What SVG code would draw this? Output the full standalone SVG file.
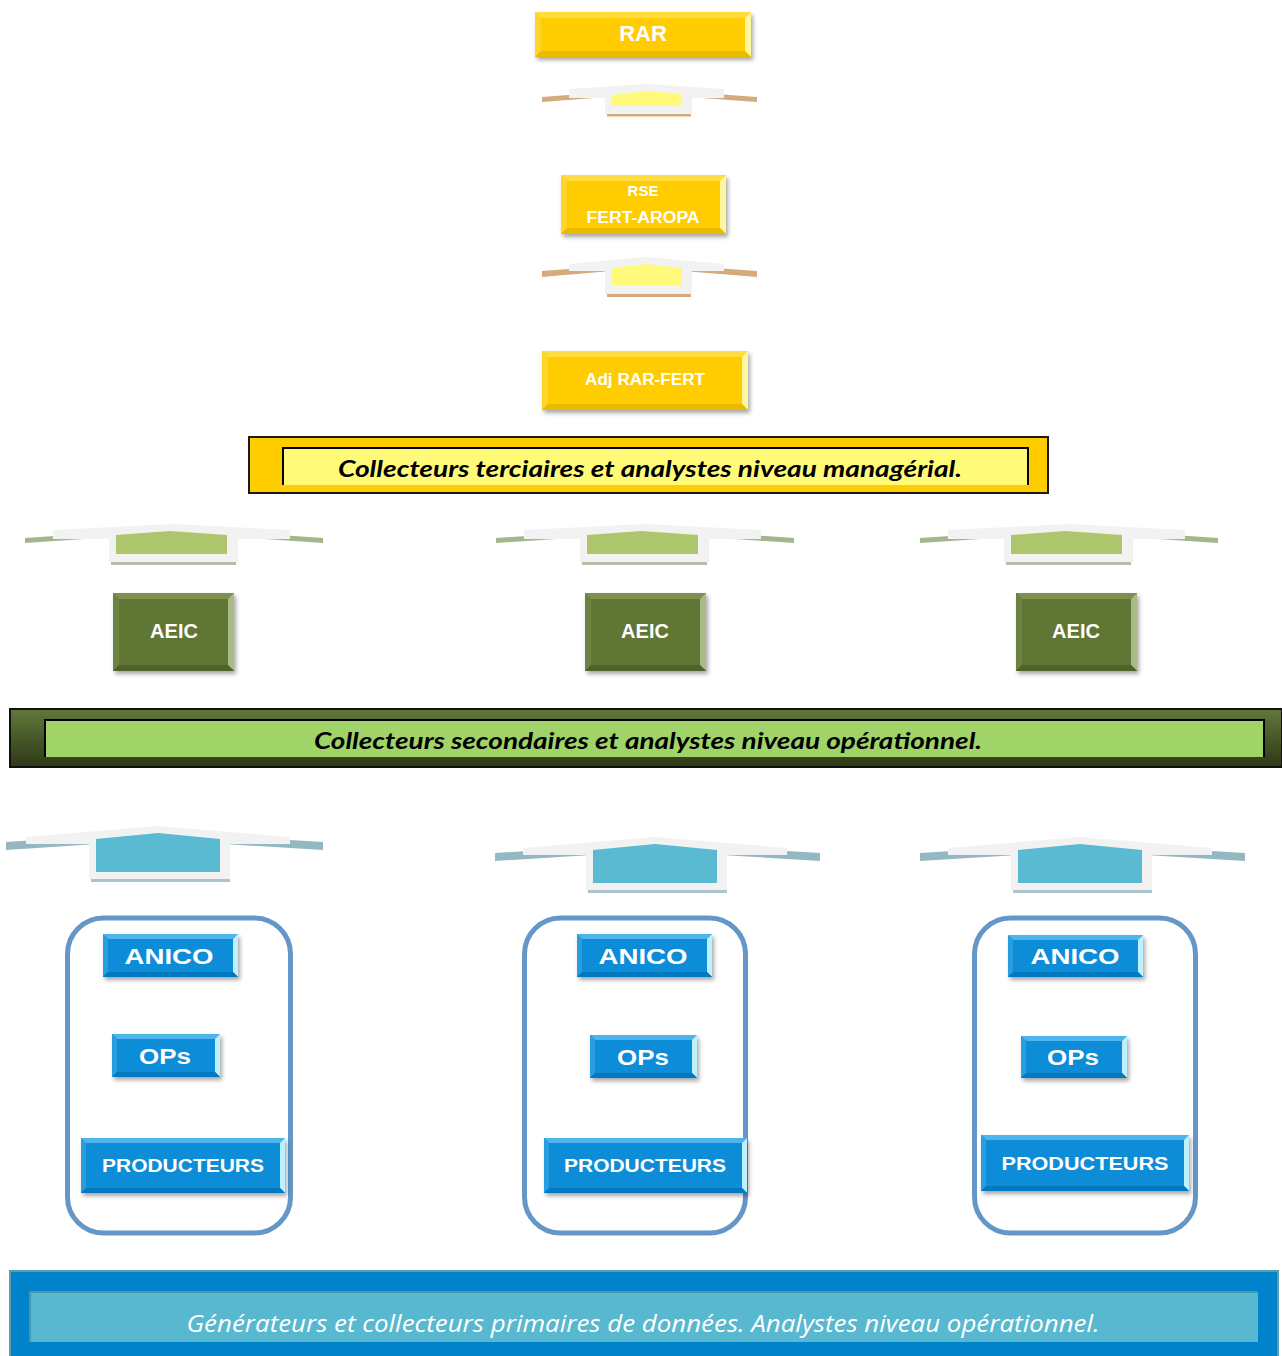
<svg xmlns="http://www.w3.org/2000/svg" xmlns:xlink="http://www.w3.org/1999/xlink" width="1282" height="1356" viewBox="0 0 1282 1356">
<style>
.lbl{font-family:"Liberation Sans",Arial,sans-serif;font-weight:bold;fill:#ffffff;text-anchor:middle}
.ban{font-family:Lato,"Liberation Sans",sans-serif;font-weight:bold;font-style:italic;fill:#000000;text-anchor:middle}
.ban2{font-family:"Open Sans","Liberation Sans",sans-serif;font-style:italic;fill:#ffffff;text-anchor:middle}
.y{fill:#FFCC00}
.yt{fill:#FFDC40}.yl{fill:#FFD52A}.yr{fill:#FFF6A0}.yb{fill:#E9BA00}
.g{fill:#5F7636}
.gt{fill:#7D9250}.gl{fill:#6C8343}.gr{fill:#A9BB86}.gb{fill:#4E6229}
.b{fill:#0E8CD8}
.bt{fill:#4DB4EC}.bl{fill:#2A9DE0}.br{fill:#BDF1FF}.bb{fill:#0079C1}
.cont{fill:#ffffff;stroke:#6497C8;stroke-width:5}
.white{fill:#F2F2F2}
</style>
<defs>
<filter id="sh" x="-20%" y="-20%" width="140%" height="150%">
<feDropShadow dx="2" dy="3" stdDeviation="2" flood-color="#000" flood-opacity="0.35"/>
</filter>
<linearGradient id="gban" x1="0" y1="0" x2="0" y2="1">
<stop offset="0" stop-color="#617839"/>
<stop offset="1" stop-color="#2E3917"/>
</linearGradient>
<g id="brG">
<polygon points="25,538 174,528 323,538 323,543 174,533 25,543" fill="#A3B58A"/>
<polygon class="white" points="53,530 174,524 290,530 290,539 238,539 238,562 109,562 109,539 53,539"/>
<rect x="111" y="562" width="125" height="3" fill="#B5BFA5"/>
<polygon points="116,535 170,531 227,535 227,554 116,554" fill="#ADC56B"/>
</g>
<g id="brBbody">
<polygon class="white" points="523,848 655,837 787,848 787,855 727,855 727,890 586,890 586,855 523,855"/>
<rect x="588" y="890" width="139" height="3" fill="#A9C4CB"/>
<polygon points="593,850 655,844 717,850 717,883 593,883" fill="#59BAD1"/>
</g>
</defs>

<g id="connectors">
<g id="bracket-y1">
<polygon points="542,97 646,89 757,97 757,102 646,94 542,102" fill="#D5AA7C"/>
<polygon class="white" points="569,89 646,84 724,89 724,98 692,98 692,114 605,114 605,98 569,98"/>
<rect x="607" y="114" width="84" height="2.5" fill="#D5AA7C"/>
<polygon points="612,95 646,91 682,94 682,106 612,106" fill="#FFFA7A"/>
</g>
<g id="bracket-y2">
<polygon points="542,271 646,263 757,271 757,277 646,268 542,277" fill="#D5AA7C"/>
<polygon class="white" points="569,264 646,257 724,264 724,271 692,271 692,294 605,294 605,271 569,271"/>
<rect x="607" y="294" width="84" height="3" fill="#D5AA7C"/>
<polygon points="612,268 646,264 682,268 682,285 612,285" fill="#FFFA7A"/>
</g>
<use id="bracket-g1" href="#brG" xlink:href="#brG"/>
<use id="bracket-g2" href="#brG" xlink:href="#brG" transform="translate(471,0)"/>
<use id="bracket-g3" href="#brG" xlink:href="#brG" transform="translate(895,0)"/>
<g id="bracket-b1">
<polygon points="6,842 158,832 323,842 323,850 158,840 6,850" fill="#94B8C1"/>
<use href="#brBbody" xlink:href="#brBbody" transform="translate(-497,-11)"/>
</g>
<g id="bracket-b2">
<polygon points="495,853 655,843 820,853 820,861 655,851 495,861" fill="#94B8C1"/>
<use href="#brBbody" xlink:href="#brBbody"/>
</g>
<g id="bracket-b3">
<polygon points="920,853 1080,843 1245,853 1245,861 1080,851 920,861" fill="#94B8C1"/>
<use href="#brBbody" xlink:href="#brBbody" transform="translate(425,0)"/>
</g>
</g>

<g id="node-rar">
<rect class="y" x="535" y="12" width="216" height="45" filter="url(#sh)"/>
<polygon class="yt" points="535,12 751,12 745,18 541,18"/>
<polygon class="yl" points="535,12 541,18 541,51 535,57"/>
<polygon class="yr" points="751,12 751,57 745,51 745,18"/>
<polygon class="yb" points="535,57 541,51 745,51 751,57"/>
<text class="lbl" x="643" y="41" font-size="22">RAR</text>
</g>

<g id="node-rse">
<rect class="y" x="561" y="175" width="165" height="59" filter="url(#sh)"/>
<polygon class="yt" points="561,175 726,175 720,181 567,181"/>
<polygon class="yl" points="561,175 567,181 567,228 561,234"/>
<polygon class="yr" points="726,175 726,234 720,228 720,181"/>
<polygon class="yb" points="561,234 567,228 720,228 726,234"/>
<text class="lbl" x="643" y="196" font-size="15">RSE</text>
<text class="lbl" x="643" y="223" font-size="16" textLength="113" lengthAdjust="spacingAndGlyphs">FERT-AROPA</text>
</g>

<g id="node-adj">
<rect class="y" x="542" y="351" width="206" height="59" filter="url(#sh)"/>
<polygon class="yt" points="542,351 748,351 742,357 548,357"/>
<polygon class="yl" points="542,351 548,357 548,404 542,410"/>
<polygon class="yr" points="748,351 748,410 742,404 742,357"/>
<polygon class="yb" points="542,410 548,404 742,404 748,410"/>
<text class="lbl" x="645" y="385" font-size="16" textLength="120" lengthAdjust="spacingAndGlyphs">Adj RAR-FERT</text>
</g>

<g id="banner-terciaires">
<rect x="249" y="437" width="799" height="56" fill="#FFCC00" stroke="#1a1a1a" stroke-width="2"/>
<rect x="283" y="448" width="745" height="37" fill="#FFFA78"/>
<path d="M283,485 V448 H1028 V485" fill="none" stroke="#000" stroke-width="2"/>
<text class="ban" x="650" y="477" font-size="22" textLength="624" lengthAdjust="spacingAndGlyphs">Collecteurs terciaires et analystes niveau managérial.</text>
</g>

<g id="node-aeic1">
<rect class="g" x="113" y="593" width="121" height="78" filter="url(#sh)"/>
<polygon class="gt" points="113,593 234,593 228,599 119,599"/>
<polygon class="gl" points="113,593 119,599 119,665 113,671"/>
<polygon class="gr" points="234,593 234,671 228,665 228,599"/>
<polygon class="gb" points="113,671 119,665 228,665 234,671"/>
<text class="lbl" x="174" y="638" font-size="20">AEIC</text>
</g>
<g id="node-aeic2">
<rect class="g" x="585" y="593" width="121" height="78" filter="url(#sh)"/>
<polygon class="gt" points="585,593 706,593 700,599 591,599"/>
<polygon class="gl" points="585,593 591,599 591,665 585,671"/>
<polygon class="gr" points="706,593 706,671 700,665 700,599"/>
<polygon class="gb" points="585,671 591,665 700,665 706,671"/>
<text class="lbl" x="645" y="638" font-size="20">AEIC</text>
</g>
<g id="node-aeic3">
<rect class="g" x="1016" y="593" width="121" height="78" filter="url(#sh)"/>
<polygon class="gt" points="1016,593 1137,593 1131,599 1022,599"/>
<polygon class="gl" points="1016,593 1022,599 1022,665 1016,671"/>
<polygon class="gr" points="1137,593 1137,671 1131,665 1131,599"/>
<polygon class="gb" points="1016,671 1022,665 1131,665 1137,671"/>
<text class="lbl" x="1076" y="638" font-size="20">AEIC</text>
</g>

<g id="banner-secondaires">
<rect x="10" y="709" width="1272" height="58" fill="url(#gban)" stroke="#111" stroke-width="2"/>
<rect x="45" y="720" width="1219" height="37" fill="#A0D468"/>
<path d="M45,757 V720 H1264 V757" fill="none" stroke="#000" stroke-width="2"/>
<text class="ban" x="648" y="749" font-size="22" textLength="668" lengthAdjust="spacingAndGlyphs">Collecteurs secondaires et analystes niveau opérationnel.</text>
</g>

<g id="group1">
<rect class="cont" x="67.5" y="918" width="223" height="315" rx="36"/>
<g id="node-anico1">
<rect class="b" x="103" y="934" width="135" height="43" filter="url(#sh)"/>
<polygon class="bt" points="103,934 238,934 233,939 108,939"/>
<polygon class="bl" points="103,934 108,939 108,972 103,977"/>
<polygon class="br" points="238,934 238,977 233,972 233,939"/>
<polygon class="bb" points="103,977 108,972 233,972 238,977"/>
<text class="lbl" x="169" y="964" font-size="22" textLength="89" lengthAdjust="spacingAndGlyphs">ANICO</text>
</g>
<g id="node-ops1">
<rect class="b" x="112" y="1034" width="108" height="43" filter="url(#sh)"/>
<polygon class="bt" points="112,1034 220,1034 215,1039 117,1039"/>
<polygon class="bl" points="112,1034 117,1039 117,1072 112,1077"/>
<polygon class="br" points="220,1034 220,1077 215,1072 215,1039"/>
<polygon class="bb" points="112,1077 117,1072 215,1072 220,1077"/>
<text class="lbl" x="165" y="1064" font-size="22" textLength="52" lengthAdjust="spacingAndGlyphs">OPs</text>
</g>
<g id="node-prod1">
<rect class="b" x="81" y="1138" width="204" height="55" filter="url(#sh)"/>
<polygon class="bt" points="81,1138 285,1138 280,1143 86,1143"/>
<polygon class="bl" points="81,1138 86,1143 86,1188 81,1193"/>
<polygon class="br" points="285,1138 285,1193 280,1188 280,1143"/>
<polygon class="bb" points="81,1193 86,1188 280,1188 285,1193"/>
<text class="lbl" x="183" y="1172" font-size="18" textLength="162" lengthAdjust="spacingAndGlyphs">PRODUCTEURS</text>
</g>
</g>

<g id="group2">
<rect class="cont" x="524.5" y="918" width="221" height="315" rx="36"/>
<g id="node-anico2">
<rect class="b" x="577" y="934" width="135" height="43" filter="url(#sh)"/>
<polygon class="bt" points="577,934 712,934 707,939 582,939"/>
<polygon class="bl" points="577,934 582,939 582,972 577,977"/>
<polygon class="br" points="712,934 712,977 707,972 707,939"/>
<polygon class="bb" points="577,977 582,972 707,972 712,977"/>
<text class="lbl" x="643" y="964" font-size="22" textLength="89" lengthAdjust="spacingAndGlyphs">ANICO</text>
</g>
<g id="node-ops2">
<rect class="b" x="590" y="1035" width="107" height="43" filter="url(#sh)"/>
<polygon class="bt" points="590,1035 697,1035 692,1040 595,1040"/>
<polygon class="bl" points="590,1035 595,1040 595,1073 590,1078"/>
<polygon class="br" points="697,1035 697,1078 692,1073 692,1040"/>
<polygon class="bb" points="590,1078 595,1073 692,1073 697,1078"/>
<text class="lbl" x="643" y="1065" font-size="22" textLength="52" lengthAdjust="spacingAndGlyphs">OPs</text>
</g>
<g id="node-prod2">
<rect class="b" x="544" y="1138" width="203" height="55" filter="url(#sh)"/>
<polygon class="bt" points="544,1138 747,1138 742,1143 549,1143"/>
<polygon class="bl" points="544,1138 549,1143 549,1188 544,1193"/>
<polygon class="br" points="747,1138 747,1193 742,1188 742,1143"/>
<polygon class="bb" points="544,1193 549,1188 742,1188 747,1193"/>
<text class="lbl" x="645" y="1172" font-size="18" textLength="162" lengthAdjust="spacingAndGlyphs">PRODUCTEURS</text>
</g>
</g>

<g id="group3">
<rect class="cont" x="974.5" y="918" width="221" height="315" rx="36"/>
<g id="node-anico3">
<rect class="b" x="1008" y="935" width="135" height="42" filter="url(#sh)"/>
<polygon class="bt" points="1008,935 1143,935 1138,940 1013,940"/>
<polygon class="bl" points="1008,935 1013,940 1013,972 1008,977"/>
<polygon class="br" points="1143,935 1143,977 1138,972 1138,940"/>
<polygon class="bb" points="1008,977 1013,972 1138,972 1143,977"/>
<text class="lbl" x="1075" y="964" font-size="22" textLength="89" lengthAdjust="spacingAndGlyphs">ANICO</text>
</g>
<g id="node-ops3">
<rect class="b" x="1021" y="1036" width="106" height="42" filter="url(#sh)"/>
<polygon class="bt" points="1021,1036 1127,1036 1122,1041 1026,1041"/>
<polygon class="bl" points="1021,1036 1026,1041 1026,1073 1021,1078"/>
<polygon class="br" points="1127,1036 1127,1078 1122,1073 1122,1041"/>
<polygon class="bb" points="1021,1078 1026,1073 1122,1073 1127,1078"/>
<text class="lbl" x="1073" y="1065" font-size="22" textLength="52" lengthAdjust="spacingAndGlyphs">OPs</text>
</g>
<g id="node-prod3">
<rect class="b" x="981" y="1135" width="208" height="56" filter="url(#sh)"/>
<polygon class="bt" points="981,1135 1189,1135 1184,1140 986,1140"/>
<polygon class="bl" points="981,1135 986,1140 986,1186 981,1191"/>
<polygon class="br" points="1189,1135 1189,1191 1184,1186 1184,1140"/>
<polygon class="bb" points="981,1191 986,1186 1184,1186 1189,1191"/>
<text class="lbl" x="1085" y="1170" font-size="18" textLength="167" lengthAdjust="spacingAndGlyphs">PRODUCTEURS</text>
</g>
</g>

<g id="banner-primaires">
<rect x="10" y="1271" width="1268" height="90" fill="#0083CB" stroke="#5C9CAD" stroke-width="2"/>
<rect x="30" y="1292" width="1228" height="50" fill="#57B8D0"/>
<path d="M30,1342 V1292 H1258" fill="none" stroke="#4797AC" stroke-width="2"/>
<text class="ban2" x="643" y="1332" font-size="24" textLength="913" lengthAdjust="spacingAndGlyphs">Générateurs et collecteurs primaires de données. Analystes niveau opérationnel.</text>
</g>
</svg>
